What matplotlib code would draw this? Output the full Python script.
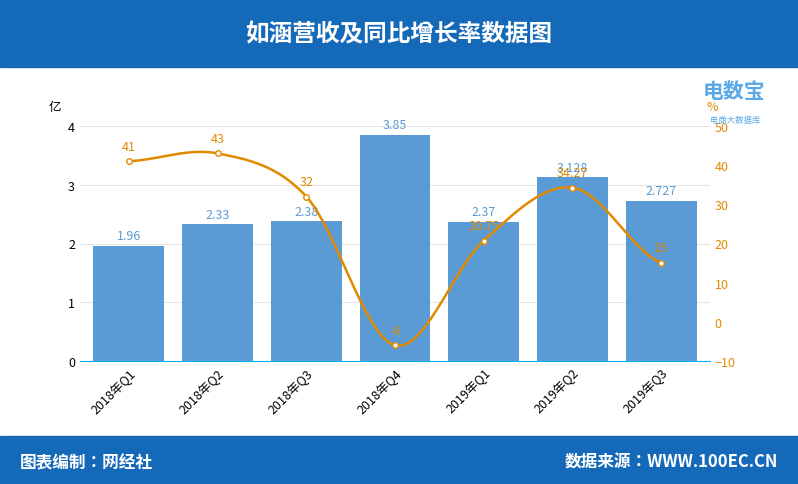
import matplotlib.pyplot as plt
import numpy as np

plt.rcParams['font.family'] = ['Noto Sans CJK JP', 'Noto Sans CJK SC', 'DejaVu Sans']

quarters = ['2018年Q1', '2018年Q2', '2018年Q3', '2018年Q4', '2019年Q1', '2019年Q2', '2019年Q3']
revenue = [1.96, 2.33, 2.38, 3.85, 2.37, 3.128, 2.727]
revenue_labels = ['1.96', '2.33', '2.38', '3.85', '2.37', '3.128', '2.727']
growth = [41, 43, 32, -6, 20.75, 34.27, 15]
growth_labels = ['41', '43', '32', '-6', '20.75', '34.27', '15']

blue = '#1469b8'
bar_c = '#5b9bd5'
orange = '#e08a00'

fig = plt.figure(figsize=(7.98, 4.85), dpi=100)
# 标题栏和底栏
fig.patches.append(plt.Rectangle((0, 1 - 68 / 485), 1, 68 / 485, transform=fig.transFigure, color=blue, zorder=0))
fig.patches.append(plt.Rectangle((0, 0), 1, 48 / 485, transform=fig.transFigure, color=blue, zorder=0))
fig.text(0.5, 1 - 34 / 485, '如涵营收及同比增长率数据图', color='white', fontsize=17, fontweight='bold', ha='center', va='center')
fig.text(0.025, 22 / 485, '图表编制：网经社', color='white', fontsize=12, fontweight='bold', va='center')
fig.text(0.975, 22 / 485, '数据来源：WWW.100EC.CN', color='white', fontsize=12, fontweight='bold', va='center', ha='right')
fig.text(0.88, 1 - 92 / 485, '电数宝', color='#5aa9e6', fontsize=15, fontweight='bold', va='center')
fig.text(0.89, 1 - 120 / 485, '电商大数据库', color='#5aa9e6', fontsize=6, va='center')

ax = fig.add_axes([80 / 798, 1 - 362 / 485, 630 / 798, 235 / 485])
x = np.arange(len(quarters))
ax.bar(x, revenue, width=0.8, color=bar_c, zorder=2)
for xi, v, t in zip(x, revenue, revenue_labels):
    ax.text(xi, v + 0.06, t, ha='center', va='bottom', color=bar_c, fontsize=9)
ax.set_ylim(0, 4)
ax.set_xlim(-0.55, 6.55)
ax.set_yticks([0, 1, 2, 3, 4])
ax.grid(axis='y', color='#e6e6e6', zorder=0)
ax.set_xticks(x)
ax.set_xticklabels(quarters, rotation=45, ha='right', rotation_mode='anchor', fontsize=9)
for s in ['top', 'right', 'left']:
    ax.spines[s].set_visible(False)
ax.spines['bottom'].set_color('#00b0f0')
ax.tick_params(axis='both', length=0, labelsize=9)
ax.text(-0.03, 1.07, '亿', transform=ax.transAxes, fontsize=9, ha='right')

ax2 = ax.twinx()
# Catmull-Rom 平滑曲线
p = np.array(growth, dtype=float)
px = x.astype(float)
xs, ys = [], []
for i in range(len(p) - 1):
    p0 = p[max(i - 1, 0)]; p1 = p[i]; p2 = p[i + 1]; p3 = p[min(i + 2, len(p) - 1)]
    t = np.linspace(0, 1, 30)
    yy = 0.5 * ((2 * p1) + (-p0 + p2) * t + (2 * p0 - 5 * p1 + 4 * p2 - p3) * t ** 2 + (-p0 + 3 * p1 - 3 * p2 + p3) * t ** 3)
    xs.extend(px[i] + t); ys.extend(yy)
ax2.plot(xs, ys, color=orange, lw=1.8, zorder=3)
ax2.plot(px, p, 'o', ms=4, mfc='white', mec=orange, mew=1, zorder=4)
for xi, v, t in zip(px, growth, growth_labels):
    ax2.text(xi, v + 2.2, t, ha='center', va='bottom', color=orange, fontsize=9)
ax2.set_ylim(-10, 50)
ax2.set_yticks(range(-10, 51, 10))
ax2.tick_params(axis='y', length=0, colors=orange, labelsize=9)
for s in ['top', 'right', 'left', 'bottom']:
    ax2.spines[s].set_visible(False)
ax2.text(0.995, 1.07, '%', transform=ax2.transAxes, fontsize=9, color=orange, ha='left')

fig.savefig('out.png', dpi=100)
